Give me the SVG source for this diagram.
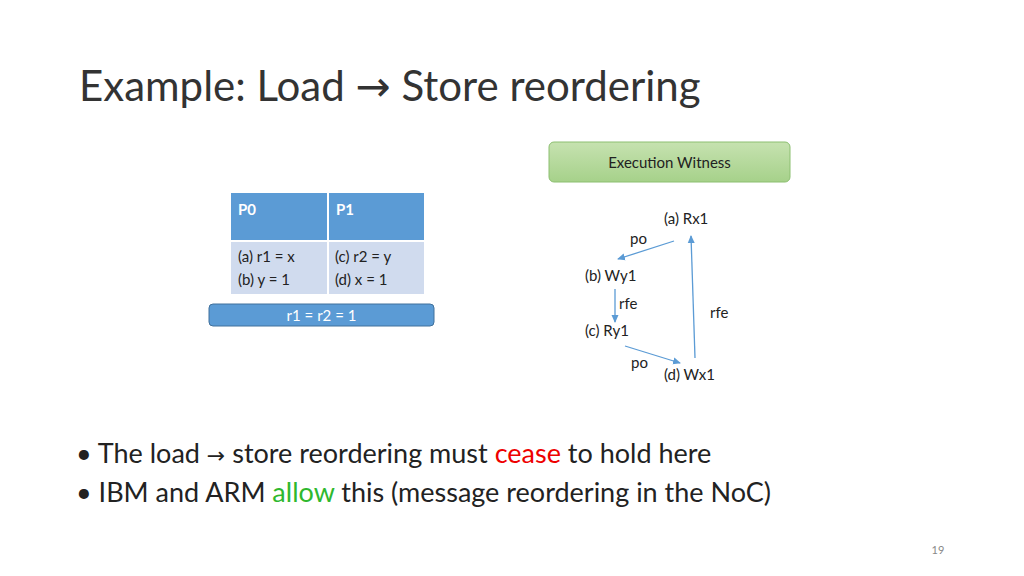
<svg xmlns="http://www.w3.org/2000/svg" width="1024" height="576" viewBox="0 0 1024 576">
<style>
text{font-family:Lato,"Open Sans","Liberation Sans",sans-serif;fill:#222}
.s{font-size:15px}
.c line{stroke:#5b9bd5;stroke-width:1.3;marker-end:url(#a)}
.h{fill:#fff;font-weight:bold;font-size:15px}
.b{font-size:27px}
</style>
<defs><marker id="a" markerWidth="8" markerHeight="8" refX="7" refY="4" orient="auto" markerUnits="userSpaceOnUse"><path d="M0,0.5 L8,4 L0,7.5 z" fill="#5b9bd5"/></marker>
<linearGradient id="g" x1="0" y1="0" x2="0" y2="1"><stop offset="0" stop-color="#c6e2b0"/><stop offset="1" stop-color="#a6d18a"/></linearGradient></defs>
<rect width="1024" height="576" fill="#fff"/>
<text x="79" y="101" font-size="42" style="fill:#333">Example: Load <tspan font-family="DejaVu Sans">→</tspan> Store reordering</text>
<g id="witness"><rect x="549" y="142" width="241" height="40" rx="5" fill="url(#g)" stroke="#8cbf70"/><text x="669.5" y="168" class="s" text-anchor="middle">Execution Witness</text></g>
<g id="table">
<rect x="231" y="193" width="96" height="47" fill="#5b9bd5"/><rect x="329" y="193" width="95" height="47" fill="#5b9bd5"/>
<rect x="231" y="242" width="96" height="52" fill="#d0dbee"/><rect x="329" y="242" width="95" height="52" fill="#d0dbee"/>
<text x="238" y="215" class="h">P0</text><text x="336" y="215" class="h">P1</text>
<text x="238" y="262" class="s">(a)  r1 = x</text><text x="238" y="285" class="s">(b)  y = 1</text>
<text x="335" y="262" class="s">(c) r2 = y</text><text x="335" y="285" class="s">(d) x = 1</text>
</g>
<g id="result"><rect x="209" y="304" width="225" height="22" rx="4" fill="#5b9bd5" stroke="#41719c"/><text x="321.5" y="321" class="s" text-anchor="middle" style="fill:#fff">r1 = r2 = 1</text></g>
<g id="a-node"><text x="664" y="224" class="s">(a) Rx1</text></g>
<g id="b-node"><text x="585" y="281" class="s">(b) Wy1</text></g>
<g id="c-node"><text x="585" y="336" class="s">(c) Ry1</text></g>
<g id="d-node"><text x="664" y="380" class="s">(d) Wx1</text></g>
<g class="c">
<line x1="674" y1="241" x2="618" y2="259"/>
<line x1="615" y1="289" x2="615" y2="322"/>
<line x1="625" y1="346" x2="680" y2="363"/>
<line x1="695" y1="358" x2="691" y2="236"/>
<text x="630" y="244" class="s">po</text><text x="619" y="309" class="s">rfe</text>
<text x="710" y="318" class="s">rfe</text><text x="631" y="368" class="s">po</text>
</g>
<text x="76" y="463" class="b">• The load <tspan font-family="DejaVu Sans" font-size="22">→</tspan> store reordering must <tspan style="fill:#e00">cease</tspan> to hold here</text>
<text x="76" y="502" class="b">• IBM and ARM <tspan style="fill:#2eb82e">allow</tspan> this (message reordering in the NoC)</text>
<text x="938" y="554" font-size="11" text-anchor="middle" style="fill:#888">19</text>
</svg>
